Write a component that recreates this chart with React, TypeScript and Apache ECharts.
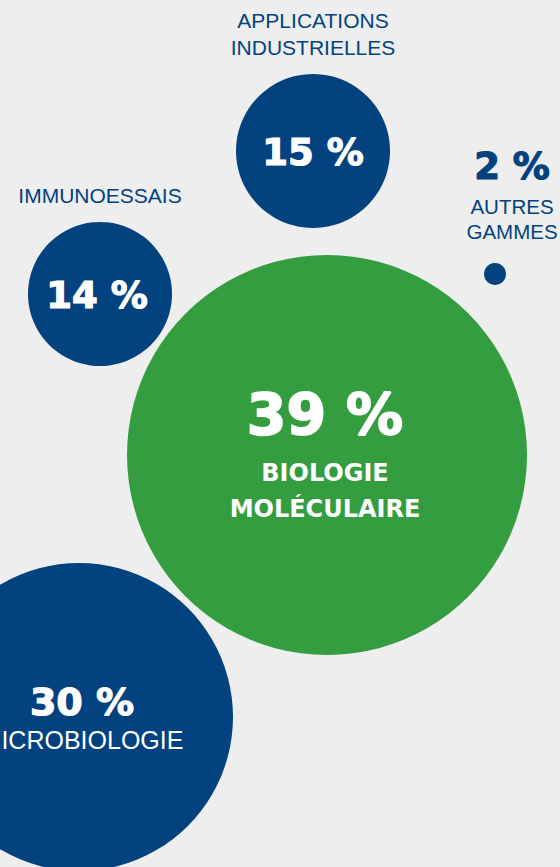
import React, { useEffect, useRef } from "react";
import * as echarts from "echarts";

// Segments and their share of sales (%)
const categories = [
  "APPLICATIONS\nINDUSTRIELLES",
  "AUTRES\nGAMMES",
  "IMMUNOESSAIS",
  "BIOLOGIE\nMOLÉCULAIRE",
  "MICROBIOLOGIE",
];
const shares = [15, 2, 14, 39, 30];
// bubble coordinates in the chart's axis space (x: 0–560, y: 0–867 from top)
const bubbleX = [313, 495, 100, 327, 79];
const bubbleY = [151, 274, 294, 455, 717];
const bubbleRadius = [77, 11, 72, 200, 154];

const BLUE = "#02427f";
const GREEN = "#349d40";
const BG = "#eeeeee";
const NUM_FONT = "DejaVu Sans";
const TXT_FONT = "Liberation Sans";

export default function App() {
  const ref = useRef<HTMLDivElement>(null);

  useEffect(() => {
    if (!ref.current) return;
    const chart = echarts.init(ref.current, undefined, { renderer: "svg" });

    const pct = (v: number) => `${v} %`;

    const numStyle = (size: number, color: string, lh: number, stroke: number) => ({
      fontFamily: NUM_FONT,
      fontWeight: "bold",
      fontSize: size,
      color,
      lineHeight: lh,
      align: "center",
      textBorderColor: color,
      textBorderWidth: stroke,
    });

    const circleData = categories.map((name, i) => {
      const base: any = {
        name,
        value: [bubbleX[i], bubbleY[i]],
        symbolSize: bubbleRadius[i] * 2,
        itemStyle: { color: i === 3 ? GREEN : BLUE, opacity: 1 },
      };
      if (i === 0 || i === 2) {
        base.label = {
          show: true,
          position: "inside",
          formatter: pct(shares[i]),
          fontFamily: NUM_FONT,
          fontWeight: "bold",
          fontSize: 37,
          color: "#ffffff",
          textBorderColor: "#ffffff",
          textBorderWidth: 1.2,
          offset: [i === 2 ? -3 : 0, 1],
        };
      } else if (i === 1) {
        base.label = {
          show: true,
          position: "inside",
          offset: [17, -83],
          formatter: `{v|${pct(shares[i])}}\n{n|AUTRES}\n{n|GAMMES}`,
          rich: {
            v: numStyle(37, BLUE, 55, 1.2),
            n: { fontFamily: TXT_FONT, fontSize: 20.5, color: BLUE, lineHeight: 25, align: "center" },
          },
        };
      } else if (i === 3) {
        base.label = {
          show: true,
          position: "inside",
          offset: [-2, -4],
          formatter: `{v|${pct(shares[i])}}\n{n|BIOLOGIE}\n{n|MOLÉCULAIRE}`,
          rich: {
            v: numStyle(57, "#ffffff", 79, 1.8),
            n: {
              fontFamily: NUM_FONT,
              fontWeight: "bold",
              fontSize: 24,
              color: "#ffffff",
              lineHeight: 36,
              align: "center",
            },
          },
        };
      } else {
        base.label = {
          show: true,
          position: "inside",
          offset: [3, 0],
          formatter: `{v|${pct(shares[i])}}\n{n|MICROBIOLOGIE}`,
          rich: {
            v: numStyle(38, "#ffffff", 46, 1.2),
            n: { fontFamily: TXT_FONT, fontSize: 25, color: "#ffffff", lineHeight: 30, align: "center" },
          },
        };
      }
      return base;
    });

    // name captions above the two mid-size bubbles
    const captionIdx = [0, 2];
    const captionOffsets: Record<number, number[]> = { 0: [0, -117], 2: [0, -99] };
    const captionData = captionIdx.map((i) => ({
      name: categories[i],
      value: [bubbleX[i], bubbleY[i]],
      symbolSize: 1,
      itemStyle: { color: "rgba(0,0,0,0)", opacity: 1 },
      label: {
        show: true,
        position: "inside",
        offset: captionOffsets[i],
        formatter: categories[i],
        fontFamily: TXT_FONT,
        fontSize: 21,
        lineHeight: 27,
        color: BLUE,
        align: "center",
      },
    }));

    chart.setOption({
      animation: false,
      backgroundColor: BG,
      grid: { left: 0, right: 0, top: 0, bottom: 0 },
      xAxis: { type: "value", min: 0, max: 560, show: false },
      yAxis: { type: "value", min: 0, max: 867, inverse: true, show: false },
      series: [
        { type: "scatter", symbol: "circle", data: circleData, silent: true, z: 2 },
        { type: "scatter", symbol: "circle", data: captionData, silent: true, z: 3 },
      ],
    });

    return () => chart.dispose();
  }, []);

  return (
    <div
      ref={ref}
      style={{ position: "fixed", left: 0, top: 0, width: 560, height: 867, background: BG }}
    />
  );
}
